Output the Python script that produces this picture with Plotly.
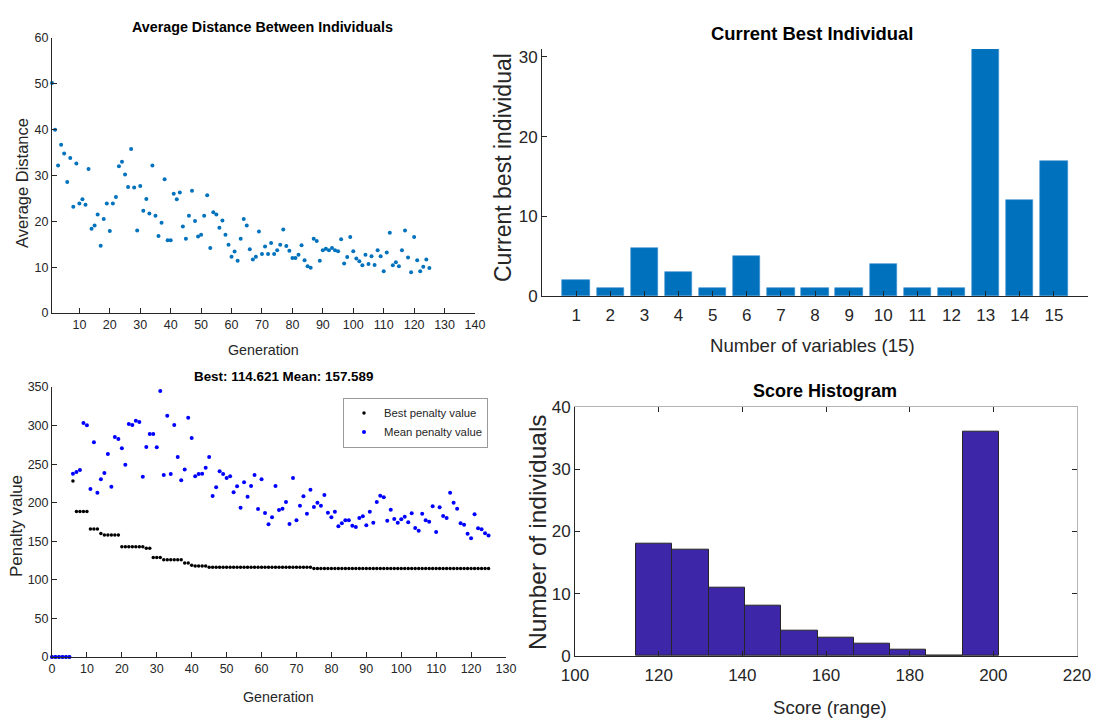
import plotly.graph_objects as go

W, H = 1100, 725

# ---------------- data ----------------
generations_avg = list(range(1, 126))
avg_distance = [
    50.2, 40.0, 32.2, 36.7, 34.8, 28.6, 33.8, 23.2, 32.6, 23.9,
    24.8, 23.6, 31.4, 18.4, 19.1, 21.5, 14.7, 20.5, 23.9, 17.9,
    23.9, 25.3, 32.0, 33.0, 30.2, 27.5, 35.8, 27.4, 18.0, 27.7,
    22.3, 24.9, 21.7, 32.2, 21.2, 16.8, 19.7, 29.2, 15.9, 15.9,
    26.0, 24.8, 26.3, 18.9, 16.2, 21.2, 26.7, 20.1, 16.7, 17.1,
    21.2, 25.7, 14.2, 22.0, 21.5, 18.6, 20.2, 17.1, 14.9, 12.3,
    13.4, 11.4, 16.2, 20.5, 19.1, 13.9, 11.7, 12.3, 17.8, 12.9,
    14.5, 12.9, 15.3, 12.9, 13.7, 14.9, 18.2, 14.6, 13.6, 12.0,
    12.0, 12.7, 14.8, 11.5, 10.2, 9.9, 16.2, 15.7, 11.4, 13.7,
    14.0, 13.7, 14.2, 13.7, 13.5, 16.1, 10.8, 12.2, 16.6, 13.5,
    11.9, 11.3, 10.4, 12.7, 10.7, 12.4, 10.5, 13.7, 12.4, 9.1,
    13.2, 17.5, 10.4, 11.1, 10.2, 13.7, 18.0, 12.1, 8.9, 16.6,
    11.5, 9.1, 10.1, 11.7, 9.8,
]

generations_pen = list(range(0, 126))
best_penalty = [
    0, 0, 0, 0, 0, 0, 228, 188.5, 188.5, 188.5,
    188.5, 166, 166, 166, 160, 158, 158, 158, 158, 158,
    143, 143, 143, 143, 143, 143, 143, 141, 141, 129,
    129, 129, 126, 126, 126, 126, 126, 126, 122, 122,
    119, 118, 118, 118, 118, 116.3, 116.3, 116.3, 116.3, 116.3,
    116.3, 116.3, 116.3, 116.3, 116.3, 116.3, 116.3, 116.3, 116.3, 116.3,
    116.3, 116.3, 116.3, 116.3, 116.3, 116.3, 116.3, 116.3, 116.3, 116.3,
    116.3, 116.3, 116.3, 116.3, 116.3, 114.621, 114.621, 114.621, 114.621, 114.621,
    114.621, 114.621, 114.621, 114.621, 114.621, 114.621, 114.621, 114.621, 114.621, 114.621,
    114.621, 114.621, 114.621, 114.621, 114.621, 114.621, 114.621, 114.621, 114.621, 114.621,
    114.621, 114.621, 114.621, 114.621, 114.621, 114.621, 114.621, 114.621, 114.621, 114.621,
    114.621, 114.621, 114.621, 114.621, 114.621, 114.621, 114.621, 114.621, 114.621, 114.621,
    114.621, 114.621, 114.621, 114.621, 114.621, 114.621,
]
mean_penalty = [
    0, 0, 0, 0, 0, 0, 237.7, 239.8, 242.4, 303.3,
    300.3, 217.8, 278.3, 213.0, 230.3, 238.5, 263.2, 220.8, 285.2, 282.6,
    270.5, 249.3, 302.0, 300.7, 306.4, 304.6, 233.8, 272.2, 289.1, 289.1,
    271.8, 344.8, 235.9, 312.8, 237.2, 300.7, 259.3, 229.0, 242.9, 310.3,
    283.9, 234.2, 237.2, 237.6, 245.4, 259.3, 208.7, 220.0, 240.7, 237.2,
    232.0, 234.2, 213.5, 221.3, 193.6, 226.5, 207.8, 221.7, 235.9, 191.9,
    230.3, 186.7, 172.0, 181.0, 221.7, 190.6, 192.3, 200.9, 172.4, 232.0,
    177.2, 196.1, 208.3, 185.8, 216.9, 194.4, 200.0, 196.1, 210.0, 187.1,
    181.1, 188.4, 169.4, 173.3, 177.2, 177.2, 170.2, 168.5, 180.2, 182.4,
    170.7, 188.4, 174.1, 200.9, 209.1, 207.0, 176.7, 191.0, 178.9, 174.1,
    178.5, 181.9, 174.6, 186.3, 167.2, 163.7, 185.8, 177.2, 175.4, 195.4,
    162.0, 194.0, 182.8, 180.2, 213.0, 200.0, 192.3, 173.3, 171.5, 159.9,
    153.9, 185.0, 166.8, 165.5, 160.3, 157.589,
]

variable_idx = list(range(1, 16))
best_individual = [2, 1, 6, 3, 1, 5, 1, 1, 1, 4, 1, 1, 31, 12, 17]

hist_edges = [114.621, 123.3, 132.0, 140.6, 149.3, 158.0, 166.7, 175.4, 184.0, 192.7, 201.4]
hist_counts = [18, 17, 11, 8, 4, 3, 2, 1, 0, 36]

title_left1 = "Average Distance Between Individuals"
title_left2 = "Best: 114.621 Mean: 157.589"
title_right1 = "Current Best Individual"
title_right2 = "Score Histogram"

# ---------------- styling ----------------
FONT = "Liberation Sans, Arial, sans-serif"
AX = "#262626"


def dx(p):
    return p / W


def dy(p):
    return 1 - p / H


hist_centers = [(hist_edges[i] + hist_edges[i + 1]) / 2 for i in range(len(hist_counts))]
hist_widths = [hist_edges[i + 1] - hist_edges[i] for i in range(len(hist_counts))]

fig = go.Figure()

fig.add_trace(go.Scatter(
    x=generations_avg, y=avg_distance, mode="markers",
    marker=dict(color="#0072BD", size=4, line=dict(width=0)),
    xaxis="x", yaxis="y", showlegend=False, cliponaxis=False,
))

fig.add_trace(go.Scatter(
    x=generations_pen, y=best_penalty, mode="markers", name="Best penalty value",
    marker=dict(color="#000000", size=3.5, line=dict(width=0)),
    xaxis="x2", yaxis="y2", showlegend=True, cliponaxis=False,
))
fig.add_trace(go.Scatter(
    x=generations_pen, y=mean_penalty, mode="markers", name="Mean penalty value",
    marker=dict(color="#0000FF", size=4, line=dict(width=0)),
    xaxis="x2", yaxis="y2", showlegend=True, cliponaxis=False,
))

fig.add_trace(go.Bar(
    x=variable_idx, y=best_individual, width=0.8,
    marker=dict(color="#0072BD", line=dict(color="#3D8FD0", width=0.6)),
    xaxis="x3", yaxis="y3", showlegend=False,
))

fig.add_trace(go.Bar(
    x=hist_centers, y=hist_counts, width=hist_widths,
    marker=dict(color="#3E26A8", line=dict(color="#262626", width=1)),
    xaxis="x4", yaxis="y4", showlegend=False,
))
# empty traces to register the box (top / right) axes of the histogram
fig.add_trace(go.Scatter(x=[], y=[], xaxis="x5", yaxis="y4", showlegend=False))
fig.add_trace(go.Scatter(x=[], y=[], xaxis="x4", yaxis="y5", showlegend=False))


def axis(domain, rng, tickvals, font_size, anchor=None, **kw):
    d = dict(
        domain=domain, range=rng, tickmode="array", tickvals=tickvals,
        showline=True, linecolor=AX, linewidth=1,
        ticks="inside", ticklen=5, tickcolor=AX, tickwidth=1,
        showgrid=False, zeroline=False,
        tickfont=dict(family=FONT, size=font_size, color=AX),
        automargin=False, fixedrange=True,
    )
    if anchor:
        d["anchor"] = anchor
    d.update(kw)
    return d


fig.update_layout(
    width=W, height=H,
    margin=dict(l=0, r=0, t=0, b=0),
    paper_bgcolor="white", plot_bgcolor="white",
    bargap=0,
    xaxis=axis([dx(52), dx(475)], [1, 140], list(range(10, 141, 10)), 12.5, anchor="y"),
    yaxis=axis([dy(313), dy(38)], [0, 60], list(range(0, 61, 10)), 12.5, anchor="x"),
    xaxis2=axis([dx(52), dx(506)], [0, 130], list(range(0, 131, 10)), 12.5, anchor="y2"),
    yaxis2=axis([dy(657), dy(387)], [0, 350], list(range(0, 351, 50)), 12.5, anchor="x2"),
    xaxis3=axis([dx(542), dx(1088)], [0, 16], variable_idx, 17, anchor="y3",
                ticklabelstandoff=4),
    yaxis3=axis([dy(296), dy(49)], [0, 31], [0, 10, 20, 30], 17, anchor="x3"),
    xaxis4=axis([dx(575), dx(1077)], [100, 220], list(range(100, 221, 20)), 17, anchor="y4",
                ticklabelstandoff=4),
    yaxis4=axis([dy(656), dy(406.7)], [0, 40], list(range(0, 41, 10)), 17, anchor="x4"),
    xaxis5=axis([dx(575), dx(1077)], [100, 220], list(range(100, 221, 20)), 17,
                anchor="y4", overlaying="x4", side="top", showticklabels=False,
                linecolor="#B4B4B4"),
    yaxis5=axis([dy(656), dy(406.7)], [0, 40], list(range(0, 41, 10)), 17,
                anchor="x4", overlaying="y4", side="right", showticklabels=False,
                linecolor="#B4B4B4"),
    legend=dict(
        x=dx(343), y=dy(397.5), xanchor="left", yanchor="top",
        bgcolor="white", bordercolor="#9A9A9A", borderwidth=1,
        font=dict(family=FONT, size=11.3, color=AX),
        itemwidth=30, tracegroupgap=0,
    ),
)


def ann(text, x, y, size, bold=False, angle=0, color=AX):
    fig.add_annotation(
        text=f"<b>{text}</b>" if bold else text,
        x=dx(x), y=dy(y), xref="paper", yref="paper",
        xanchor="center", yanchor="middle", showarrow=False, textangle=angle,
        font=dict(family=FONT, size=size, color=color),
    )


# top-left
ann(title_left1, 262, 27, 14.3, bold=True, color="#000000")
ann("Average Distance", 22, 183, 16.5, angle=-90)
ann("Generation", 263, 350, 14.3)
# bottom-left
ann(title_left2, 283, 376, 13.4, bold=True, color="#000000")
ann("Penalty value", 16, 526, 17, angle=-90)
ann("Generation", 278, 697, 14.3)
# top-right
ann(title_right1, 812, 33, 18.4, bold=True, color="#000000")
ann("Current best individual", 503, 168, 23, angle=-90)
ann("Number of variables (15)", 812, 345, 18.6)
# bottom-right
ann(title_right2, 825, 391, 18, bold=True, color="#000000")
ann("Number of individuals", 537, 532, 24.5, angle=-90)
ann("Score (range)", 830, 707, 18.6)

fig.write_html("out.html")
